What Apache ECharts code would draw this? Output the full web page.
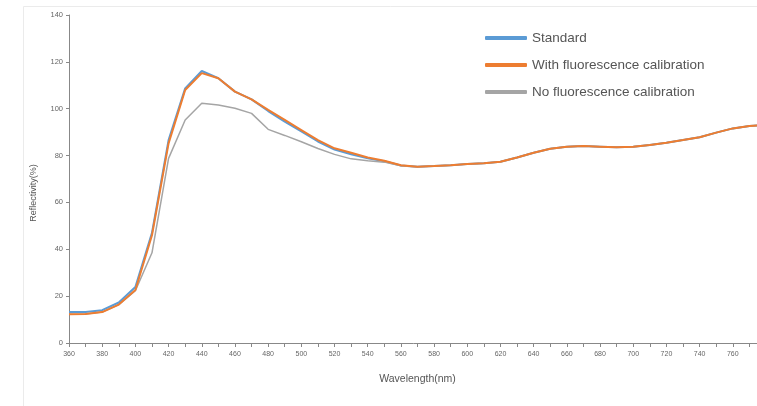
<!DOCTYPE html>
<html>
<head>
<meta charset="utf-8">
<script src="https://cdn.jsdelivr.net/npm/echarts@6/dist/echarts.min.js"></script>
<style>html,body{margin:0;padding:0;background:#fff}#c{width:757px;height:406px}</style>
</head>
<body>
<div id="c"></div>
<script>
const wavelengths = [360,370,380,390,400,410,420,430,440,450,460,470,480,490,500,510,520,530,540,550,560,570,580,590,600,610,620,630,640,650,660,670,680,690,700,710,720,730,740,750,760,770,780];
const standard = [13.2,13.2,14.0,17.3,23.9,47,86.6,108.7,116.1,113,107.3,104,99,94.5,90.3,86,82.6,80.6,78.8,77.6,75.8,75.2,75.5,75.9,76.4,76.7,77.4,79.2,81.2,82.9,83.8,84.1,83.8,83.5,83.8,84.5,85.5,86.6,87.8,89.8,91.6,92.6,93];
const withCal = [12.3,12.4,13.2,16.4,22.6,46,85.2,108,115.2,113,107.3,104,99.5,95.2,90.9,86.6,83.1,81.2,79.2,77.8,75.9,75.2,75.5,75.9,76.4,76.7,77.4,79.2,81.2,82.9,83.8,84.1,83.8,83.5,83.8,84.5,85.5,86.6,87.8,89.8,91.6,92.6,93];
const noCal = [12.3,12.4,13.2,16.4,22.3,38.5,78.8,95.2,102.3,101.6,100.2,98,91.2,88.6,85.9,83,80.5,78.6,77.8,77.2,75.6,75.2,75.5,75.9,76.4,76.7,77.4,79.2,81.2,82.9,83.8,84.1,83.8,83.5,83.8,84.5,85.5,86.6,87.8,89.8,91.6,92.6,93];
const seriesNames = ['Standard','With fluorescence calibration','No fluorescence calibration'];
const yTicks = [0,20,40,60,80,100,120,140];

const pair = arr => wavelengths.map((w,i)=>[w,arr[i]]);
const chart = echarts.init(document.getElementById('c'), null, {renderer:'canvas'});
const font = '"Liberation Sans", Arial, sans-serif';
chart.setOption({
  animation:false,
  textStyle:{fontFamily:font},
  graphic:[{type:'rect',shape:{x:23.5,y:6.5,width:800,height:500},style:{fill:'none',stroke:'#ebebeb',lineWidth:1},silent:true,z:-1}],
  grid:{left:69,right:-9,top:15,bottom:63,outerBoundsMode:'none',containLabel:false},
  legend:{
    orient:'vertical',left:480,top:26,itemWidth:42,itemHeight:4,itemGap:13,
    icon:'roundRect',
    textStyle:{fontSize:13.5,color:'#555',fontFamily:font},
    data:seriesNames
  },
  xAxis:{
    type:'value',min:360,max:780,interval:10,
    name:'Wavelength(nm)',nameLocation:'middle',nameGap:31,
    nameTextStyle:{fontSize:10.5,color:'#555'},
    axisLine:{lineStyle:{color:'#888',width:1}},
    axisTick:{length:4,lineStyle:{color:'#888'}},
    axisLabel:{fontSize:7,color:'#666',margin:8,formatter:v=> (v%20===0 && v<780)? String(v):''},
    splitLine:{show:false}
  },
  yAxis:{
    type:'value',min:yTicks[0],max:yTicks[yTicks.length-1],interval:20,
    name:'Reflectivity(%)',nameLocation:'middle',nameGap:31,
    nameTextStyle:{fontSize:9,color:'#555',padding:[0,28,0,0]},
    axisLine:{show:true,lineStyle:{color:'#888',width:1}},
    axisTick:{show:true,length:3,lineStyle:{color:'#888'}},
    axisLabel:{fontSize:7.5,color:'#666',margin:6},
    splitLine:{show:false}
  },
  series:[
    {name:seriesNames[0],type:'line',data:pair(standard),showSymbol:false,z:2,lineStyle:{color:'#5b9bd5',width:2},itemStyle:{color:'#5b9bd5'}},
    {name:seriesNames[1],type:'line',data:pair(withCal),showSymbol:false,z:4,lineStyle:{color:'#ed7d31',width:2},itemStyle:{color:'#ed7d31'}},
    {name:seriesNames[2],type:'line',data:pair(noCal),showSymbol:false,z:3,lineStyle:{color:'#a5a5a5',width:1.5},itemStyle:{color:'#a5a5a5'}}
  ]
});
</script>
</body>
</html>
